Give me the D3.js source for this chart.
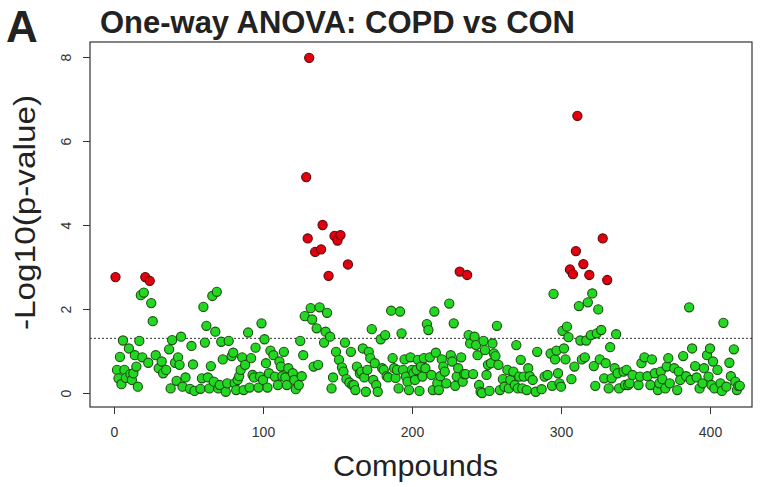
<!DOCTYPE html>
<html><head><meta charset="utf-8">
<script src="https://cdn.jsdelivr.net/npm/d3@7"></script>
<style>body{margin:0;background:#fff}svg{display:block}text{font-family:"Liberation Sans",Arial,sans-serif}</style>
</head><body><div id="chart"></div>
<script>
// Compound index (x) and -log10(p-value) (y)
const compoundIndex = [
1,2,3,4,5,6,7,8,10,11,12,13,14,15,16,17,18,19,20,21,23,24,25,26,28,30,32,33,35,37,38,39,41,42,43,44,45,46,48,51,52,53,54,58,59,60,61,62,63,64,
65,66,67,68,69,70,71,72,73,75,76,77,79,80,81,82,83,84,85,86,87,88,90,91,92,93,94,95,97,98,99,100,101,102,103,104,105,107,108,110,111,112,113,114,115,116,117,120,121,122,124,125,126,127,128,129,130,131,132,133,134,135,
136,137,138,139,140,141,142,143,144,145,146,147,148,149,150,151,152,153,154,155,156,157,158,159,160,161,162,163,165,166,167,168,169,170,171,172,173,174,175,176,177,179,180,181,182,183,184,186,187,188,189,190,191,192,193,194,195,196,197,198,199,200,
201,202,203,204,205,206,207,208,209,210,211,212,213,214,215,216,217,218,219,220,221,222,223,225,226,227,228,229,230,231,232,233,234,235,236,237,238,239,241,242,243,244,245,246,247,248,249,250,251,252,253,254,255,256,257,258,259,261,262,264,265,266,268,269,270,271,272,273,
274,275,277,278,279,281,283,284,287,289,291,293,294,295,296,297,298,299,300,301,302,303,304,305,306,307,308,309,310,311,312,313,314,315,316,317,318,319,320,321,322,323,324,325,326,327,328,329,330,331,332,333,334,336,337,338,339,342,343,
344,345,346,348,352,353,354,356,358,360,361,363,365,366,367,368,370,371,372,373,376,378,379,380,382,384,386,387,388,390,391,393,395,396,398,399,400,401,402,403,405,407,408,409,411,413,414,416,417,418,419,420
];
const logP = [
2.76,0.55,0.35,0.86,0.21,1.25,0.55,0.36,1.06,0.45,0.31,0.47,0.90,0.63,0.15,1.24,2.33,0.85,2.39,2.76,0.72,2.67,2.14,1.71,0.90,0.59,0.75,0.47,0.55,1.04,0.11,1.26,0.72,0.29,0.85,0.67,1.34,0.15,0.37,0.10,1.12,0.68,0.05,0.10,0.35,2.05,1.20,1.60,0.37,0.11,
0.64,2.31,0.27,1.46,2.41,0.11,0.19,1.22,0.80,0.03,0.23,1.24,0.88,0.96,0.23,0.07,0.31,0.40,0.55,0.85,0.07,0.67,1.44,0.13,0.83,0.43,0.37,1.08,0.13,0.39,1.66,0.31,1.28,0.71,0.13,0.47,1.01,0.90,0.39,0.19,0.75,0.63,0.40,0.98,0.37,0.19,0.59,0.47,0.31,0.09,0.19,1.24,0.40,0.90,1.83,5.14,3.68,7.98,2.02,1.75,0.63,3.36,
1.54,0.67,2.04,3.42,4.00,1.20,1.46,1.91,2.79,1.34,0.11,0.37,3.74,0.98,3.63,0.79,3.76,0.61,0.51,1.20,0.33,3.06,0.25,0.98,0.19,0.19,0.07,0.63,0.47,0.51,1.06,0.37,0.03,0.55,0.98,0.83,1.52,0.31,0.71,0.19,0.03,1.28,0.59,0.55,1.38,0.40,0.37,1.96,0.83,0.59,0.36,0.55,0.11,1.94,1.42,0.55,0.80,0.39,0.27,0.07,0.85,0.55,
0.47,0.31,0.55,0.79,0.05,0.63,0.39,0.83,0.59,1.64,1.50,0.85,0.43,0.07,1.94,0.96,0.23,0.07,0.40,0.80,0.63,0.51,0.23,2.13,0.90,0.75,1.66,0.17,0.39,0.59,2.89,0.85,0.27,0.45,0.45,2.81,1.38,1.18,0.45,1.34,1.14,0.90,0.19,0.03,0.00,1.24,1.02,0.43,0.67,0.05,0.71,1.18,0.94,0.88,1.60,0.67,0.07,0.33,0.15,0.55,0.11,0.31,0.51,0.19,1.14,0.11,0.39,0.79,
0.11,0.39,0.07,0.59,0.40,0.31,0.03,0.98,0.09,0.39,0.43,0.94,0.17,2.36,0.80,1.01,0.47,0.23,0.15,1.48,1.06,0.80,1.58,1.33,2.94,0.33,2.83,0.63,3.38,6.60,2.07,1.25,0.80,3.07,0.85,1.25,2.16,2.81,1.38,2.37,0.64,0.17,1.42,1.99,0.80,1.50,3.68,0.35,0.71,2.69,0.11,1.09,0.35,0.59,1.40,0.47,0.11,0.51,0.19,
0.55,0.19,0.23,0.43,0.19,0.39,0.71,0.85,0.40,0.19,0.80,0.47,0.07,0.23,0.51,0.33,0.11,0.63,0.83,0.23,0.59,0.07,0.51,0.31,0.88,0.40,2.04,0.31,1.06,0.64,0.37,0.11,0.23,0.59,0.90,0.39,1.06,0.19,0.75,0.11,0.55,0.23,0.05,1.67,0.15,0.72,0.40,1.04,0.27,0.07,0.17,0.17
];
const xTicks = [0,100,200,300,400];
const yTicks = [0,2,4,6,8];
const threshold = -Math.log10(0.05);
const sigCut = 2.5;

const W = 774, H = 487;
const box = {left: 90, right: 752, top: 42, bottom: 407};
const svg = d3.select("#chart").append("svg").attr("width", W).attr("height", H);

const x = d3.scaleLinear().domain([0, 400]).range([114, 710]);
const y = d3.scaleLinear().domain([0, 8]).range([393, 57]);

// plot frame
svg.append("rect").attr("x", box.left).attr("y", box.top)
  .attr("width", box.right - box.left).attr("height", box.bottom - box.top)
  .attr("fill", "none").attr("stroke", "#333").attr("stroke-width", 1.2);

// x axis
const gx = svg.append("g").attr("transform", `translate(0,${box.bottom})`)
  .call(d3.axisBottom(x).tickValues(xTicks).tickSize(7).tickPadding(13).tickFormat(d3.format("d")));
gx.select(".domain").remove();
gx.selectAll("line").attr("stroke", "#333");
gx.selectAll("text").attr("font-size", 14).attr("fill", "#333").attr("font-family", "Liberation Sans, Arial, sans-serif");

// y axis
const gy = svg.append("g").attr("transform", `translate(${box.left},0)`)
  .call(d3.axisLeft(y).tickValues(yTicks).tickSize(7).tickFormat(d3.format("d")));
gy.select(".domain").remove();
gy.selectAll("line").attr("stroke", "#333");
gy.selectAll("text").attr("font-size", 14).attr("fill", "#333")
  .attr("font-family", "Liberation Sans, Arial, sans-serif")
  .attr("text-anchor", "middle").attr("x", null).attr("dy", null)
  .attr("transform", `translate(-24,0) rotate(-90)`)
  .attr("y", 0).attr("dy", "0.35em");

// threshold dotted line
svg.append("line").attr("x1", box.left).attr("x2", box.right)
  .attr("y1", y(threshold)).attr("y2", y(threshold))
  .attr("stroke", "#333").attr("stroke-width", 1).attr("stroke-dasharray", "2,2");

// points
const pts = compoundIndex.map((c, i) => ({c, v: logP[i]}));
svg.append("g").selectAll("circle").data(pts).join("circle")
  .attr("cx", d => x(d.c)).attr("cy", d => y(d.v)).attr("r", 4.6)
  .attr("fill", d => d.v > sigCut ? "#e0000f" : "#22d822")
  .attr("stroke", d => d.v > sigCut ? "#5a0a0a" : "#1d4d12").attr("stroke-width", 1.1);

// titles
svg.append("text").attr("x", 6).attr("y", 42).attr("font-size", 44).attr("font-weight", "bold").attr("fill", "#222").text("A");
svg.append("text").attr("x", 100).attr("y", 33).attr("font-size", 31).attr("font-weight", "bold").attr("fill", "#222")
  .attr("textLength", 475).attr("lengthAdjust", "spacingAndGlyphs").text("One-way ANOVA: COPD vs CON");
svg.append("text").attr("x", 333).attr("y", 476)
  .attr("font-size", 30).attr("fill", "#222")
  .attr("textLength", 165).attr("lengthAdjust", "spacingAndGlyphs").text("Compounds");
svg.append("text").attr("transform", `translate(35,330) rotate(-90)`)
  .attr("font-size", 30).attr("fill", "#222")
  .attr("textLength", 235).attr("lengthAdjust", "spacingAndGlyphs").text("-Log10(p-value)");
</script></body></html>
